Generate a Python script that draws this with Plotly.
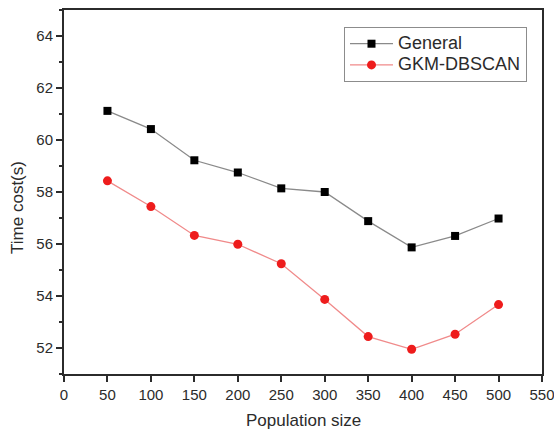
import plotly.graph_objects as go

# Population sizes and measured time costs (seconds)
population = [50, 100, 150, 200, 250, 300, 350, 400, 450, 500]
general = [61.12, 60.42, 59.22, 58.75, 58.14, 58.0, 56.88, 55.87, 56.31, 56.98]
gkm_dbscan = [58.43, 57.44, 56.33, 55.99, 55.24, 53.87, 52.44, 51.95, 52.53, 53.67]

x_ticks = list(range(0, 551, 50))
y_ticks = [52, 54, 56, 58, 60, 62, 64]

FONT = "Liberation Sans, Arial, sans-serif"
INK = "#2b2b2b"


def legend_label(text):
    # larger glyphs while keeping the compact row height of the legend font
    return f"<span style='font-size:18px'>{text}</span>"


fig = go.Figure()
fig.add_trace(go.Scatter(
    x=population, y=general, name=legend_label("General"), mode="lines+markers",
    line=dict(color="#8a8a8a", width=1.3),
    marker=dict(symbol="square", size=8, color="#000000"),
))
fig.add_trace(go.Scatter(
    x=population, y=gkm_dbscan, name=legend_label("GKM-DBSCAN"), mode="lines+markers",
    line=dict(color="#f08a8a", width=1.3),
    marker=dict(symbol="circle", size=9, color="#ee1c1c"),
))

axis_common = dict(
    showline=True, linecolor=INK, linewidth=2, mirror=True,
    showgrid=False, zeroline=False, ticks="outside", ticklen=6,
    tickwidth=1.5, tickcolor=INK, automargin=False,
    tickfont=dict(family=FONT, size=15, color=INK),
)

fig.update_xaxes(range=[0, 550], tickvals=x_ticks, ticklabeloverflow="allow",
                 **axis_common)
fig.update_yaxes(
    range=[51, 65], tickvals=y_ticks,
    minor=dict(tickvals=[51, 53, 55, 57, 59, 61, 63, 65], ticklen=3,
               tickcolor=INK, tickwidth=1.5, ticks="outside"),
    **axis_common,
)

fig.update_layout(
    width=554, height=433,
    margin=dict(l=64, r=12, t=10, b=59, autoexpand=False),
    paper_bgcolor="white", plot_bgcolor="white",
    showlegend=True,
    legend=dict(
        x=0.9686, y=0.953, xanchor="right", yanchor="top",
        bgcolor="white", bordercolor="#8c8c8c", borderwidth=1,
        font=dict(family=FONT, size=14, color=INK),
        tracegroupgap=0, itemwidth=43,
    ),
    annotations=[
        dict(text="Population size", xref="paper", yref="paper",
             x=0.5, y=-0.128, xanchor="center", yanchor="middle",
             showarrow=False, font=dict(family=FONT, size=17, color=INK)),
        dict(text="Time cost(s)", xref="paper", yref="paper",
             x=-0.097, y=0.458, xanchor="center", yanchor="middle",
             textangle=-90, showarrow=False,
             font=dict(family=FONT, size=17, color=INK)),
    ],
)

fig.write_html("out.html")
